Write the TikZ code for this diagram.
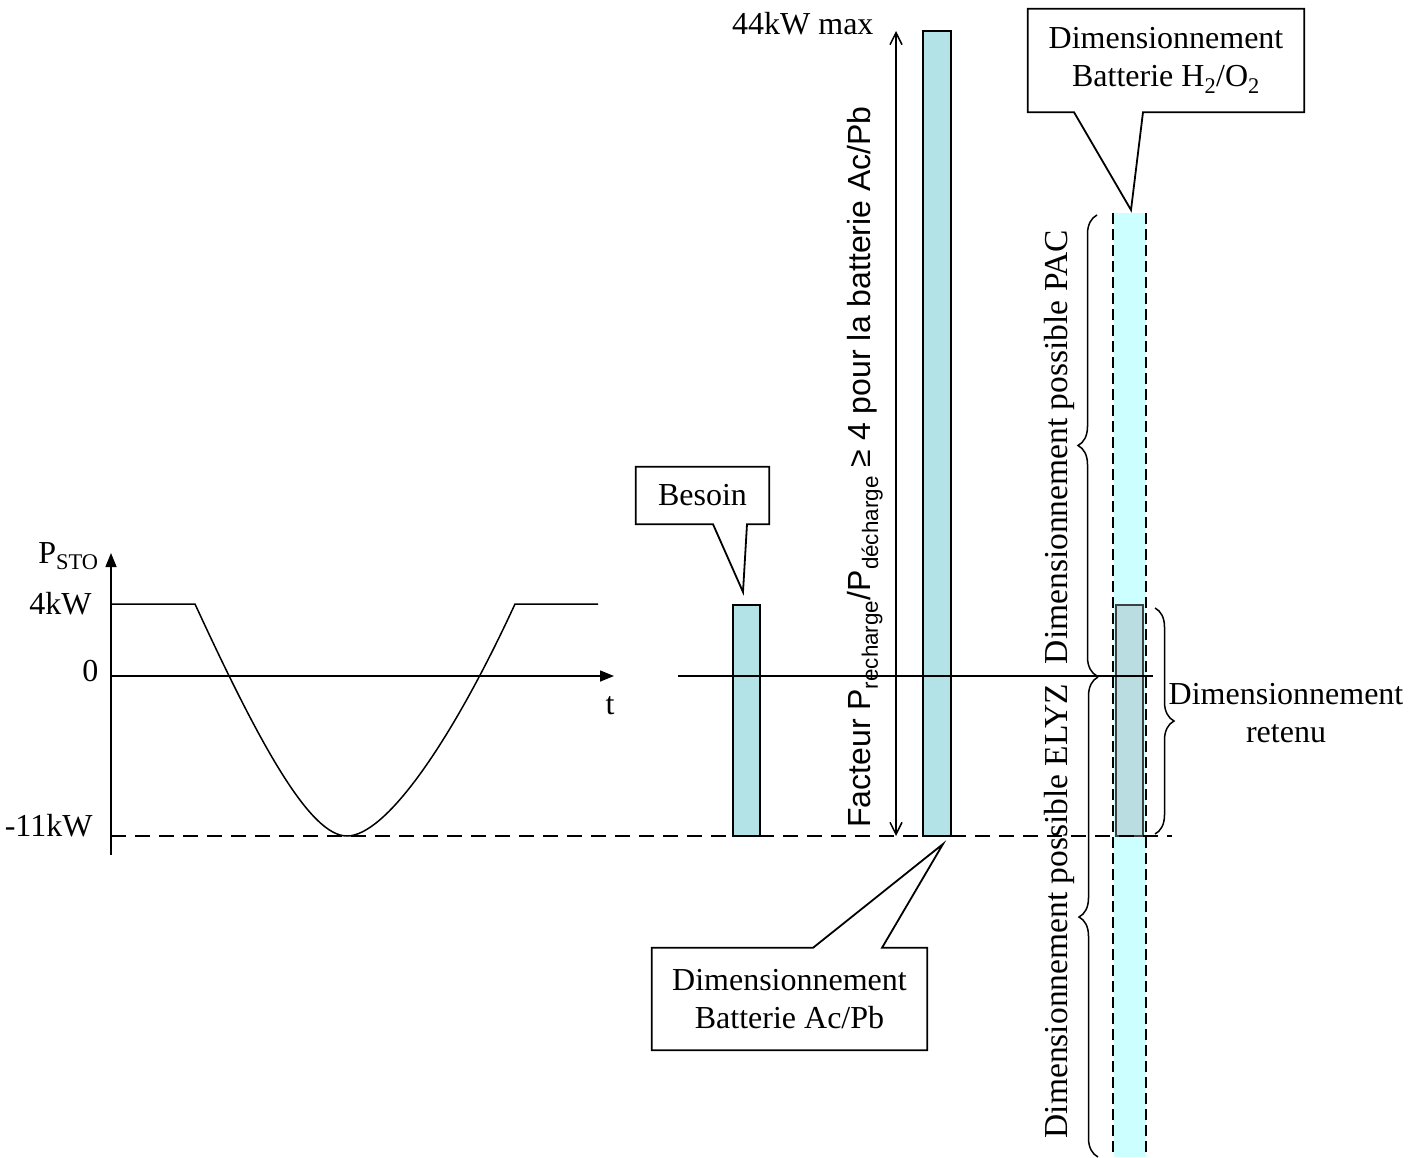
\documentclass[tikz,border=0pt]{standalone}
\usepackage{fontspec}
\setmainfont{Liberation Serif}
\setsansfont{Liberation Sans}
\usetikzlibrary{arrows.meta,positioning,decorations.pathreplacing}
\definecolor{ink}{HTML}{000000}
\definecolor{barfill}{HTML}{B3E3E6}
\definecolor{keptfill}{HTML}{B9DDE0}
\definecolor{stripfill}{HTML}{CCFFFF}
\tikzset{
  every node/.style={font=\fontsize{32}{38}\selectfont, text=ink},
  thin line/.style={line width=1.5pt, draw=ink},
  axis/.style={thin line, -{Triangle[length=14pt, width=11pt]}},
  limline/.style={thin line, dash pattern=on 15pt off 9pt},
  stripline/.style={thin line, dash pattern=on 11pt off 5pt},
  bar/.style={thin line, fill=barfill},
  keptbar/.style={line width=1.5pt, draw=ink!75, fill=keptfill},
  span/.style={thin line, {Straight Barb[length=12pt, width=12pt]}-{Straight Barb[length=12pt, width=12pt]}},
  callout/.style={inner sep=0pt, align=center},
  calloutline/.style={line width=1.8pt, draw=ink},
  bracket/.style={thin line, decorate, decoration={brace, amplitude=19pt}},
  lbl/.style={font=\fontsize{32}{38}\selectfont},
  vlbl/.style={rotate=90, font=\fontsize{33.5}{38}\selectfont},
}

\begin{document}
\begin{tikzpicture}[x=1pt, y=-1pt]
\useasboundingbox (0,0) rectangle (1422,1157);

% --- right column: possible H2/O2 range ---
\fill[stripfill] (1114,213) rectangle (1146,1157);
\draw[stripline] (1113,213) -- (1113,1157);
\draw[stripline] (1146,213) -- (1146,1157);

% --- bars ---
\draw[bar] (733,605) rectangle (760,836);
\draw[bar] (923,31) rectangle (951,836);
\draw[keptbar] (1116,605) rectangle (1143,836);

% --- axes and profile ---
\draw[axis] (111,855) -- (111,553);
\draw[axis] (111,676) -- (614,676);
\draw[thin line] (678,676) -- (1153,676);
\draw[limline] (111,836) -- (1172,836);
\draw[thin line] (111,604) -- (195,604)
  .. controls (260,745) and (310,836) .. (347,836)
  .. controls (385,836) and (450,745) .. (515,604) -- (598,604);

\node[lbl, anchor=base east] (psto) at (102,563) {P\textsubscript{STO}};
\node[lbl, anchor=base east] (pmax) at (95,614) {4kW};
\node[lbl, anchor=base east] (pzero) at (102,681) {0};
\node[lbl, anchor=base east] (pmin) at (96,836) {-11kW};
\node[lbl, anchor=base] (tlbl) at (610,714) {t};

% --- Ac/Pb span ---
\draw[span] (896,836) -- (896,31);
\node[lbl, anchor=base east] (maxlbl) at (877,34) {44kW max};
\node[vlbl, font=\sffamily\fontsize{32}{38}\selectfont] (facteur) at (865,467)
  {Facteur P\textsubscript{recharge}/P\textsubscript{décharge} ≥ 4 pour la batterie Ac/Pb};

% --- braces ---
\draw[bracket] (1097,676) -- (1097,215);
\draw[bracket] (1098,1157) -- (1098,677);
\draw[bracket] (1155,608) -- (1155,834);
\node[vlbl] (pac) at (1059,447) {Dimensionnement possible PAC};
\node[vlbl] (elyz) at (1059,911) {Dimensionnement possible ELYZ};
\node[lbl, align=center] (retenu) at (1286,713) {Dimensionnement\\retenu};

% --- callouts ---
\coordinate (besointip) at (743,592);
\node[callout, minimum width=133pt, minimum height=57pt] (besoin) at (702.5,495.5) {Besoin};
\draw[calloutline] (besoin.north west) -- (besoin.north east) -- (besoin.south east)
  -- ([xshift=44.5pt]besoin.south) -- (besointip) -- ([xshift=10.5pt]besoin.south)
  -- (besoin.south west) -- cycle;

\coordinate (acpbtip) at (943,844);
\node[callout, minimum width=275pt, minimum height=102pt] (acpb) at (789.5,999)
  {Dimensionnement\\Batterie Ac/Pb};
\draw[calloutline] (acpb.south west) -- (acpb.south east) -- (acpb.north east)
  -- ([xshift=92.5pt]acpb.north) -- (acpbtip) -- ([xshift=23.5pt]acpb.north)
  -- (acpb.north west) -- cycle;

\coordinate (h2otip) at (1131,210);
\node[callout, minimum width=276pt, minimum height=103pt] (h2o) at (1166,60.5)
  {Dimensionnement\\Batterie H\textsubscript{2}/O\textsubscript{2}};
\draw[calloutline] (h2o.north west) -- (h2o.north east) -- (h2o.south east)
  -- ([xshift=-23pt]h2o.south) -- (h2otip) -- ([xshift=-92pt]h2o.south)
  -- (h2o.south west) -- cycle;

\end{tikzpicture}
\end{document}
